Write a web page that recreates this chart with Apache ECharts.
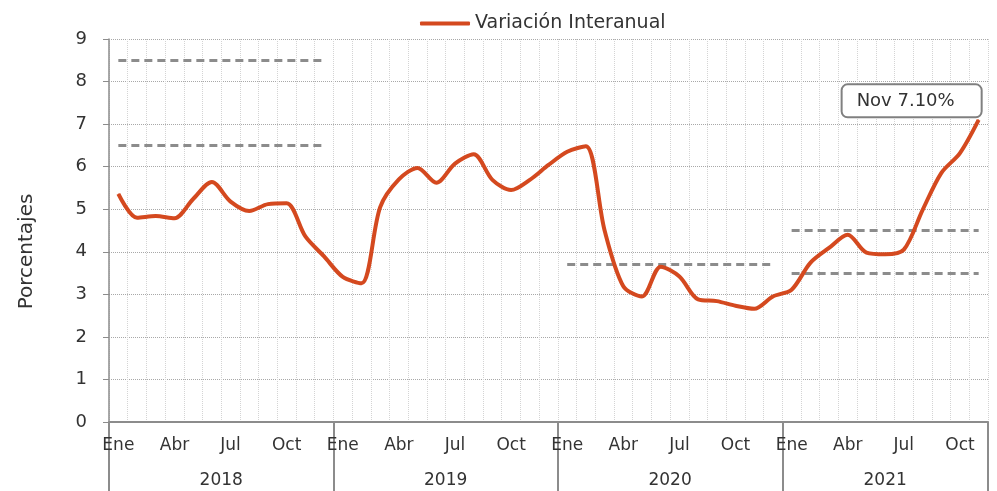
<!DOCTYPE html>
<html>
<head>
<meta charset="utf-8">
<script src="https://cdn.jsdelivr.net/npm/echarts@6/dist/echarts.min.js"></script>
<style>
html,body{margin:0;padding:0;background:#fff;}
#c{width:997px;height:491px;}
</style>
</head>
<body>
<div id="c"></div>
<script>
// ---- data ----
const monthNames = ['Ene','Feb','Mar','Abr','May','Jun','Jul','Ago','Sep','Oct','Nov','Dic'];
const years = ['2018','2019','2020','2021'];
const monthsPerYear = [12, 12, 12, 11];
const seriesName = 'Variación Interanual';
const values2018 = [5.36, 4.80, 4.84, 4.79, 5.24, 5.64, 5.18, 4.96, 5.12, 5.14, 4.36, 3.89];
const values2019 = [3.41, 3.26, 5.05, 5.70, 5.97, 5.62, 6.07, 6.29, 5.69, 5.45, 5.69, 6.04];
const values2020 = [6.35, 6.48, 4.50, 3.19, 2.95, 3.65, 3.42, 2.88, 2.84, 2.73, 2.66, 2.95];
const values2021 = [3.11, 3.74, 4.09, 4.40, 3.98, 3.94, 4.05, 4.98, 5.85, 6.32, 7.10];
const yTicks = [0,1,2,3,4,5,6,7,8,9];
// reference dashed ranges: [start month index, end month index, value]
const refStart = [0, 0, 24, 36, 36];
const refEnd   = [11, 11, 35, 46, 46];
const refValue = [8.5, 6.5, 3.7, 4.5, 3.5];

// ---- build ----
const categories = [];
years.forEach((y, yi) => {
  for (let m = 0; m < monthsPerYear[yi]; m++) categories.push(monthNames[m] + ' ' + y);
});
const values = [].concat(values2018, values2019, values2020, values2021);
const N = categories.length;
const yearMid = {};
let acc = 0;
years.forEach((y, yi) => { yearMid[(acc + monthsPerYear[yi] / 2).toFixed(1)] = y; acc += monthsPerYear[yi]; });
const yearStarts = [];
acc = 0; monthsPerYear.forEach(n => { yearStarts.push(acc); acc += n; });

const FONT = 'DejaVu Sans';
const lastIdx = values.length - 1;
const lastMonth = categories[lastIdx].split(' ')[0];

const seriesData = values.map((v, i) => i === lastIdx ? {
  value: v,
  label: {
    show: true,
    position: 'top',
    distance: 3,
    offset: [-67, 0],
    formatter: lastMonth + ' ' + v.toFixed(2) + '%',
    fontFamily: FONT,
    fontSize: 18,
    color: '#333',
    backgroundColor: '#fff',
    borderColor: '#808080',
    borderWidth: 2,
    borderRadius: 5,
    padding: [7, 26, 6, 14]
  }
} : v);

const markData = refValue.map((v, k) => [
  {coord: [refStart[k], v]},
  {coord: [refEnd[k], v]}
]);

const chart = echarts.init(document.getElementById('c'), null, {renderer: 'canvas'});
chart.setOption({
  animation: false,
  textStyle: {fontFamily: FONT},
  legend: {
    data: [seriesName],
    left: 415, top: 9,
    icon: 'roundRect',
    itemWidth: 50, itemHeight: 4,
    itemGap: 5,
    textStyle: {fontFamily: FONT, fontSize: 19, color: '#333'}
  },
  grid: {left: 109, right: 9, top: 39, bottom: 69, containLabel: false},
  xAxis: [{
    type: 'category',
    data: categories,
    boundaryGap: true,
    axisLine: {show: true, lineStyle: {color: '#8c8c8c', width: 2}},
    axisTick: {
      show: true,
      length: 72,
      interval: (i) => yearStarts.indexOf(i) >= 0,
      lineStyle: {color: '#8c8c8c', width: 2}
    },
    axisLabel: {
      interval: (i) => i % 3 === 0,
      formatter: (v) => v.split(' ')[0],
      fontFamily: FONT, fontSize: 17, color: '#333', margin: 15
    },
    splitLine: {show: true, interval: 0, lineStyle: {color: '#d4d4d4', type: 'dotted', width: 1}}
  }, {
    type: 'value',
    position: 'bottom',
    min: 0, max: N,
    interval: 0.5,
    axisLine: {show: false},
    axisTick: {show: false},
    splitLine: {show: false},
    axisLabel: {
      formatter: (v) => yearMid[v.toFixed(1)] || '',
      fontFamily: FONT, fontSize: 17, color: '#333', margin: 50,
      showMinLabel: true, showMaxLabel: true
    }
  }],
  yAxis: {
    type: 'value',
    min: 0, max: 9, interval: 1,
    name: 'Porcentajes',
    nameLocation: 'middle',
    nameGap: 72,
    nameTextStyle: {fontFamily: FONT, fontSize: 20, color: '#333', padding: [0, 42, 0, 0]},
    axisLine: {show: true, lineStyle: {color: '#8c8c8c', width: 1.5}},
    axisTick: {show: true, length: 6, lineStyle: {color: '#8c8c8c'}},
    axisLabel: {fontFamily: FONT, fontSize: 18, color: '#333', margin: 22,
      formatter: (v) => yTicks.indexOf(v) >= 0 ? String(v) : ''},
    splitLine: {show: true, lineStyle: {color: '#a8a8a8', type: 'dotted', width: 1}}
  },
  series: [{
    name: seriesName,
    type: 'line',
    data: seriesData,
    smooth: 0.3,
    symbol: 'circle',
    symbolSize: 1,
    showSymbol: true,
    showAllSymbol: true,
    lineStyle: {color: '#D4491F', width: 4},
    itemStyle: {color: '#D4491F'},
    z: 3,
    markLine: {
      silent: true,
      symbol: ['none', 'none'],
      label: {show: false},
      lineStyle: {color: '#8c8c8c', type: [8, 5], width: 3},
      data: markData,
      z: 2
    }
  }]
});
</script>
</body>
</html>
